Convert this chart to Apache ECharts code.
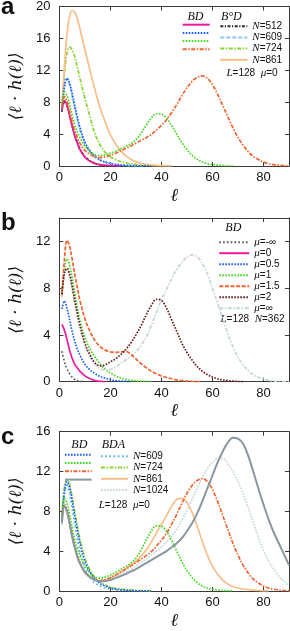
<!DOCTYPE html>
<html><head><meta charset="utf-8">
<script src="https://cdn.jsdelivr.net/npm/echarts@6/dist/echarts.min.js"></script>
<style>html,body{margin:0;padding:0;background:#fff}#c{width:290px;height:631px}</style>
</head><body><div id="c"></div>
<script>
// shared ℓ sample positions
const xs = [1,2,3,4,5,6,7,8,10,12,14,16,18,20,22,24,26,28,30,32,34,36,38,40,42,44,46,48,50,52,54,56,58,60,62,64,66,68,70,72,74,76,78,80,82,84,86,88,90];

// tick labels
const xTicks = [0,20,40,60,80];
const yTicksA = [0,4,8,12,16,20];
const yTicksB = [0,4,8,12];
const yTicksC = [0,4,8,12,16];

// panel a : L=128 mu=0
const legendA = ['N=512','N=609','N=724','N=861'];
const a_bd512 = [6.9,8.2,7.6,6.3,5.0,3.8,2.9,2.1,1.1,0.6,0.3,0.15,0.07,0.03,0.01,0];
const a_bd609 = [7.0,10.0,11.0,10.4,9.1,7.6,6.2,4.9,3.0,1.9,1.2,0.75,0.5,0.32,0.2,0.13,0.08,0.05,0.03,0.02,0.01,0];
const a_bd724 = [7.8,9.3,8.8,7.7,6.4,5.2,4.3,3.6,2.5,1.8,1.4,1.3,1.4,1.6,1.85,2.15,2.45,2.8,3.3,4.1,5.1,6.0,6.55,6.5,6.0,5.1,4.0,2.95,2.05,1.35,0.85,0.5,0.3,0.18,0.1,0.05,0.02,0];
const a_bd861 = [7.3,8.7,8.1,6.9,5.6,4.5,3.6,2.9,1.95,1.45,1.15,1.05,1.15,1.35,1.6,1.9,2.2,2.5,2.85,3.2,3.55,3.95,4.5,5.1,5.8,6.7,7.7,8.8,9.8,10.6,11.1,11.3,11.0,10.2,9.0,7.6,6.2,4.8,3.6,2.6,1.8,1.2,0.8,0.5,0.3,0.18,0.1,0.05,0.02];
const a_bod512 = [6.8,8.1,7.6,6.4,5.1,3.9,3.0,2.2,1.2,0.65,0.35,0.18,0.09,0.04,0.02,0.01,0];
const a_bod609 = [7.0,10.1,10.9,10.2,8.8,7.3,5.9,4.6,2.8,1.75,1.1,0.7,0.45,0.3,0.18,0.12,0.07,0.04,0.02,0.01,0];
const a_bod724 = [7.5,11.5,14.2,14.9,14.6,13.7,12.5,11.1,8.5,6.2,4.0,2.6,1.7,1.15,0.8,0.55,0.4,0.28,0.2,0.14,0.1,0.06,0.03,0];
const a_bod861 = [7.0,12.5,16.5,18.8,19.5,19.3,18.5,17.3,14.6,12.0,9.5,7.3,5.5,3.9,2.8,1.9,1.3,0.85,0.55,0.35,0.22,0.14,0.08,0.04,0.02,0];

// panel b : L=128 N=362
const legendB = ['μ=-∞','μ=0','μ=0.5','μ=1','μ=1.5','μ=2','μ=∞'];
const b_mNegInf = [2.6,1.7,1.1,0.7,0.4,0.2,0.1,0.03,0];
const b_m0 = [4.9,4.4,3.6,2.7,2.0,1.5,1.2,0.9,0.5,0.25,0.1,0.03,0];
const b_m05 = [6.2,6.9,6.3,5.3,4.3,3.5,2.8,2.3,1.5,1.0,0.7,0.45,0.3,0.18,0.1,0.05,0.02,0];
const b_m1 = [7.5,9.6,10.5,10.0,8.9,7.6,6.4,5.3,3.8,2.8,2.1,1.5,1.05,0.75,0.5,0.32,0.2,0.12,0.07,0.04,0.02,0];
const b_m15 = [7.4,10.5,12.1,11.6,10.5,9.2,8.1,7.0,5.4,4.3,3.5,3.0,2.7,2.55,2.5,2.55,2.6,2.35,1.95,1.55,1.2,0.9,0.68,0.5,0.36,0.25,0.16,0.1,0.06,0.03,0.01,0];
const b_m2 = [7.5,9.3,9.7,9.2,8.2,7.0,5.9,4.9,3.3,2.3,1.6,1.35,1.45,1.7,1.95,2.3,2.75,3.3,4.0,4.8,5.7,6.5,7.05,6.95,6.3,5.3,4.3,3.3,2.5,1.85,1.3,0.9,0.6,0.4,0.25,0.15,0.09,0.05,0.02,0];
const b_mInf = [7.2,9.2,9.6,9.0,7.9,6.7,5.6,4.6,3.1,2.1,1.5,1.1,1.0,1.05,1.25,1.55,1.85,2.15,2.55,3.1,3.8,4.8,5.9,7.0,7.9,8.8,9.6,10.2,10.65,10.85,10.7,10.1,9.2,8.0,6.7,5.4,4.1,3.0,2.1,1.45,0.95,0.6,0.38,0.22,0.12,0.06,0.03,0.01,0];

// panel c : L=128 mu=0, BD vs BDA
const legendC = ['N=609','N=724','N=861','N=1024'];
const c_bd609 = [7.0,10.0,11.0,10.4,9.1,7.6,6.2,4.9,3.0,1.9,1.2,0.75,0.5,0.32,0.2,0.13,0.08,0.05,0.03,0.02,0.01,0];
const c_bd724 = [7.8,9.3,8.8,7.7,6.4,5.2,4.3,3.6,2.5,1.8,1.4,1.3,1.4,1.6,1.85,2.15,2.45,2.8,3.3,4.1,5.1,6.0,6.55,6.5,6.0,5.1,4.0,2.95,2.05,1.35,0.85,0.5,0.3,0.18,0.1,0.05,0.02,0];
const c_bd861 = [7.3,8.7,8.1,6.9,5.6,4.5,3.6,2.9,1.95,1.45,1.15,1.05,1.15,1.35,1.6,1.9,2.2,2.5,2.85,3.2,3.55,3.95,4.5,5.1,5.8,6.7,7.7,8.8,9.8,10.6,11.1,11.3,11.0,10.2,9.0,7.6,6.2,4.8,3.6,2.6,1.8,1.2,0.8,0.5,0.3,0.18,0.1,0.05,0.02];
const c_bd1024 = [6.8,8.5,8.0,6.8,5.5,4.4,3.5,2.8,1.9,1.4,1.1,0.95,1.0,1.1,1.3,1.5,1.7,1.95,2.2,2.5,2.8,3.1,3.4,3.7,4.0,4.4,4.8,5.3,6.0,6.8,7.8,9.0,10.3,11.6,12.9,14.0,14.9,15.4,15.3,14.8,13.6,12.0,10.3,8.7,7.2,5.9,4.8,3.7,2.6];
const c_bda609 = [6.8,9.8,10.6,9.8,8.3,6.8,5.3,4.0,2.3,1.35,0.8,0.5,0.3,0.2,0.12,0.07,0.04,0.02,0];
const c_bda724 = [7.5,10.5,11.2,10.7,9.5,8.0,6.6,5.3,3.3,2.1,1.35,0.9,0.6,0.4,0.28,0.2,0.14,0.1,0.06,0.03,0.01,0];
const c_bda861 = [7.0,8.5,8.0,6.8,5.5,4.4,3.5,2.8,1.85,1.35,1.1,1.0,1.1,1.3,1.55,1.85,2.2,2.6,3.0,3.5,4.1,4.9,5.8,6.7,7.6,8.5,9.2,9.3,8.9,7.9,6.5,5.0,3.6,2.5,1.7,1.1,0.7,0.45,0.3,0.2,0.13,0.08,0.05,0.02,0];
const c_bda1024 = [6.6,8.2,7.8,6.6,5.4,4.3,3.4,2.7,1.8,1.35,1.1,1.0,1.05,1.2,1.4,1.65,1.9,2.2,2.5,2.85,3.2,3.6,4.0,4.4,4.9,5.5,6.2,7.1,8.1,9.2,10.3,11.4,12.3,12.9,13.3,13.3,12.8,12.0,11.0,9.8,8.4,6.9,5.4,4.1,3.0,2.2,1.5,1.0,0.6];

// ---------- styling ----------
const C = {
  magenta:'#f0189a', blue:'#1d5cff', green:'#3fdc1c', orange:'#f4622e',
  black:'#2a2a2a', lblue:'#8cc6f2', ygreen:'#8ad42c', lorange:'#f9be8a',
  brown:'#6a1c1c', lgray:'#c5d5d9', gray:'#8897a0', sky:'#45b2ef', dgray:'#555'
};
const ST = {
  solid:'solid', dot:[1.6,1.4], dash:[4,2], dashdot:[4,1.5,1.5,1.5], ddot:[3,1.5,1.2,1.5], sparse:[1.6,2.6]
};
const SANS = 'Liberation Sans';
const SERIF = 'Liberation Serif';

function pts(arr){ return arr.map((v,i)=>[xs[i], v]); }
const series = [];
function addLine(name, arr, g, color, type, width){
  series.push({
    name, type:'line', data:pts(arr), xAxisIndex:2*g, yAxisIndex:2*g,
    smooth:0.35, symbol:'none', showSymbol:false, silent:true,
    lineStyle:{color, width: width||1.7, type}, itemStyle:{color}
  });
}
// panel a
addLine('a-BoD-512', a_bod512, 0, C.black, ST.ddot);
addLine('a-BoD-609', a_bod609, 0, C.lblue, ST.dash);
addLine('a-BoD-724', a_bod724, 0, C.ygreen, ST.dashdot);
addLine('a-BoD-861', a_bod861, 0, C.lorange, ST.solid);
addLine('a-BD-512', a_bd512, 0, C.magenta, ST.solid);
addLine('a-BD-609', a_bd609, 0, C.blue, ST.dot);
addLine('a-BD-724', a_bd724, 0, C.green, ST.dot);
addLine('a-BD-861', a_bd861, 0, C.orange, ST.dashdot);
// panel b
addLine('b-0', b_mNegInf, 1, C.dgray, [1.6,2.2]);
addLine('b-1', b_m0, 1, C.magenta, ST.solid);
addLine('b-2', b_m05, 1, C.blue, ST.dot);
addLine('b-3', b_m1, 1, C.green, ST.dot);
addLine('b-6', b_mInf, 1, C.lgray, ST.dashdot);
addLine('b-4', b_m15, 1, C.orange, [4,1.6]);
addLine('b-5', b_m2, 1, C.brown, ST.dot);
// panel c
addLine('c-BDA-609', c_bda609, 2, C.sky, ST.sparse);
addLine('c-BDA-724', c_bda724, 2, C.ygreen, ST.dashdot);
addLine('c-BDA-861', c_bda861, 2, C.lorange, ST.solid);
addLine('c-BDA-1024', c_bda1024, 2, C.lgray, ST.dot);
addLine('c-BD-609', c_bd609, 2, C.blue, ST.dot);
addLine('c-BD-724', c_bd724, 2, C.green, ST.dot);
addLine('c-BD-861', c_bd861, 2, C.orange, ST.dashdot);
addLine('c-BD-1024', c_bd1024, 2, C.gray, ST.solid, 2);

const grids = [
  {left:43, top:5, width:246, height:161},
  {left:43, top:218, width:246, height:163.7},
  {left:43, top:431.7, width:246, height:162.6}
];
const yMax = [20, 14, 16];
const frame = '#3a3a3a';
const xAxis = [], yAxis = [];
grids.forEach((g,i)=>{
  xAxis.push({gridIndex:i, type:'value', min:0, max:90, interval:20, position:'bottom',
    axisLine:{show:true, onZero:false, lineStyle:{color:frame, width:1}},
    axisTick:{show:true, inside:true, length:4, lineStyle:{color:frame}},
    axisLabel:{show:true, showMaxLabel:false, margin:5, fontSize:13, color:'#111', fontFamily:SANS,
      formatter:v=> xTicks.includes(v)? String(v) : ''},
    splitLine:{show:false},
    name:'ℓ', nameLocation:'middle', nameGap:21,
    nameTextStyle:{fontFamily:'DejaVu Serif', fontStyle:'italic', fontSize:18, color:'#111'}
  });
  xAxis.push({gridIndex:i, type:'value', min:0, max:90, interval:20, position:'top',
    axisLine:{show:true, onZero:false, lineStyle:{color:frame, width:1}},
    axisTick:{show:true, inside:true, length:4, lineStyle:{color:frame}},
    axisLabel:{show:false}, splitLine:{show:false}});
  const yt = [yTicksA, yTicksB, yTicksC][i];
  yAxis.push({gridIndex:i, type:'value', min:0, max:yMax[i], interval:4, position:'left',
    axisLine:{show:true, onZero:false, lineStyle:{color:frame, width:1}},
    axisTick:{show:true, inside:true, length:4, lineStyle:{color:frame}},
    axisLabel:{show:true, margin:9, fontSize:13, color:'#111', fontFamily:SANS,
      formatter:v=> yt.includes(v)? String(v) : ''},
    splitLine:{show:false},
    name:'⟨ℓ · h(ℓ)⟩', nameLocation:'middle', nameGap:24, nameRotate:90,
    nameTextStyle:{fontFamily:'DejaVu Serif', fontStyle:'italic', fontSize:17, color:'#111'}
  });
  yAxis.push({gridIndex:i, type:'value', min:0, max:yMax[i], interval:4, position:'right',
    axisLine:{show:true, onZero:false, lineStyle:{color:frame, width:1}},
    axisTick:{show:true, inside:true, length:4, lineStyle:{color:frame}},
    axisLabel:{show:false}, splitLine:{show:false}});
});

const richLeg = {
  n:{fontFamily:SERIF, fontStyle:'italic', fontSize:11, color:'#111', lineHeight:10},
  t:{fontFamily:SANS, fontSize:10, color:'#111', lineHeight:10}
};
function legendCol(names, left, top, w, labels, gap){
  return {
    orient:'vertical', left, top, padding:0, itemGap:gap, itemWidth:w, itemHeight:10,
    selectedMode:false, data:names,
    itemStyle:{opacity:0, borderWidth:0},
    textStyle:{fontSize:10, lineHeight:10, color:'#111', fontFamily:SANS, rich:richLeg},
    formatter: name => {
      if(!labels) return '';
      const lab = labels[names.indexOf(name)];
      const m = lab.match(/^([Nμ])(=.*)$/);
      return '{n|'+m[1]+'}{t|'+m[2]+'}';
    }
  };
}
const legend = [
  legendCol(['a-BD-512','a-BD-609','a-BD-724','a-BD-861'], 181.7, 20.7, 27, null, 0.2),
  legendCol(['a-BoD-512','a-BoD-609','a-BoD-724','a-BoD-861'], 219.3, 20.7, 27, legendA, 0.2),
  legendCol(['b-0','b-1','b-2','b-3','b-4','b-5','b-6'], 218.3, 236.7, 30, legendB, 0),
  legendCol(['c-BD-609','c-BD-724','c-BD-861','c-BD-1024'], 64, 450.7, 26.7, null, 0.3),
  legendCol(['c-BDA-609','c-BDA-724','c-BDA-861','c-BDA-1024'], 100, 450.7, 27, legendC, 0.3)
];

function txt(x, y, text, extra){
  return Object.assign({type:'text', x, y, silent:true, style:Object.assign({
    text, fill:'#111', align:'center', verticalAlign:'middle',
    font:'10px "Liberation Sans"',
    rich:{
      i:{fontFamily:SERIF, fontStyle:'italic', fontSize:11, fill:'#111'},
      s:{fontFamily:SANS, fontSize:10, fill:'#111'}
    }
  }, extra||{})});
}
const headFont = {font:'italic 12px "Liberation Serif"'};
const letterFont = {font:'bold 24px "Liberation Sans"', align:'left'};
const graphic = [
  txt(1, 7, 'a', letterFont),
  txt(1, 223, 'b', letterFont),
  txt(1, 437, 'c', letterFont),
  txt(195.5, 17, 'BD', headFont),
  txt(231.3, 17, 'B°D', headFont),
  txt(252, 73, '{i|L}{s|=128  }{i|μ}{s|=0}'),
  txt(233.3, 228.3, 'BD', headFont),
  txt(252.5, 319.3, '{i|L}{s|=128  }{i|N}{s|=362}'),
  txt(79.3, 445, 'BD', headFont),
  txt(113.3, 445, 'BDA', headFont),
  txt(124.3, 505, '{i|L}{s|=128  }{i|μ}{s|=0}')
];

const chart = echarts.init(document.getElementById('c'), null, {renderer:'canvas'});
chart.setOption({
  animation:false, backgroundColor:'#fff',
  grid:grids, xAxis, yAxis, series, legend, graphic
});
</script></body></html>
